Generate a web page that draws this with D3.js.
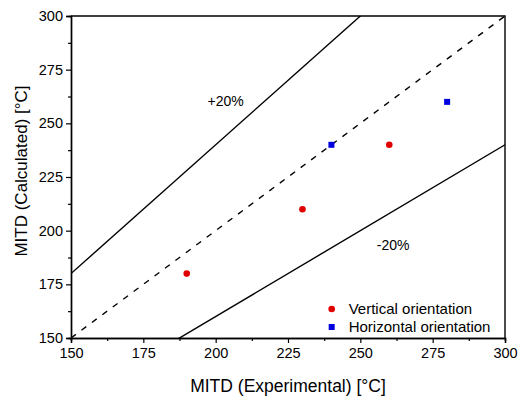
<!DOCTYPE html>
<html>
<head>
<meta charset="utf-8">
<script src="https://cdn.jsdelivr.net/npm/d3@7"></script>
<style>
  body { margin: 0; background: #fff; }
  text { font-family: "Liberation Sans", Arial, sans-serif; fill: #000; }
</style>
</head>
<body>
<div id="viz"></div>
<script>
// data
const verticalExp = [190, 230, 260];
const verticalCalc = [180, 210, 240];
const horizontalExp = [240, 280];
const horizontalCalc = [240, 260];
const majorTicks = [150, 175, 200, 225, 250, 275, 300];
const minorTicks = [162.5, 187.5, 212.5, 237.5, 262.5, 287.5];
const bandFactors = [1.2, 1.0, 0.8];
const bandLabels = ['+20%', '', '-20%'];
const legendLabels = ['Vertical orientation', 'Horizontal orientation'];

const W = 518, H = 398;
const margin = { top: 16, right: 13, bottom: 60, left: 71 };
const width = W - margin.left - margin.right;
const height = H - margin.top - margin.bottom;

const svg = d3.select('#viz').append('svg')
  .attr('width', W)
  .attr('height', H);

const g = svg.append('g')
  .attr('transform', `translate(${margin.left},${margin.top})`);

const x = d3.scaleLinear().domain([150, 300]).range([0, width]);
const y = d3.scaleLinear().domain([150, 300]).range([height, 0]);

g.append('defs').append('clipPath').attr('id', 'clip')
  .append('rect').attr('width', width).attr('height', height);

// reference lines y = k * x
const lineGen = d3.line().x(d => x(d[0])).y(d => y(d[1]));
const plot = g.append('g').attr('clip-path', 'url(#clip)');
bandFactors.forEach(k => {
  plot.append('path')
    .datum([[150, 150 * k], [300, 300 * k]])
    .attr('fill', 'none')
    .attr('stroke', '#000')
    .attr('stroke-width', 1.4)
    .attr('stroke-dasharray', k === 1 ? '6,7' : null)
    .attr('d', lineGen);
});

// band labels
g.append('text').attr('x', x(197.2)).attr('y', y(258.2)).attr('font-size', 14)
  .text(bandLabels[0]);
g.append('text').attr('x', x(255.7)).attr('y', y(191.1)).attr('font-size', 14)
  .text(bandLabels[2]);

// points
g.selectAll('.vert').data(verticalExp).join('circle')
  .attr('cx', d => x(d))
  .attr('cy', (d, i) => y(verticalCalc[i]))
  .attr('r', 3.3)
  .attr('fill', '#e00000');

g.selectAll('.horiz').data(horizontalExp).join('rect')
  .attr('x', d => x(d) - 3)
  .attr('y', (d, i) => y(horizontalCalc[i]) - 3)
  .attr('width', 6)
  .attr('height', 6)
  .attr('fill', '#0000e0');

// axes
g.append('g').attr('transform', `translate(0,${height})`)
  .call(d3.axisBottom(x).tickValues(majorTicks).tickSize(5).tickPadding(5));
g.append('g').attr('transform', `translate(0,${height})`)
  .call(d3.axisBottom(x).tickValues(minorTicks).tickSize(3).tickFormat(''));
g.append('g')
  .call(d3.axisLeft(y).tickValues(majorTicks).tickSize(5).tickPadding(3));
g.append('g')
  .call(d3.axisLeft(y).tickValues(minorTicks).tickSize(3).tickFormat(''));

g.selectAll('.domain').attr('stroke', '#000').attr('stroke-width', 1.4);
g.selectAll('.tick line').attr('stroke', '#000').attr('stroke-width', 1.2);
g.selectAll('.tick text')
  .attr('font-size', 14.5)
  .attr('font-family', '"Liberation Sans", Arial, sans-serif')
  .attr('fill', '#000');

// top and right frame
g.append('path')
  .attr('d', `M0,0H${width}V${height}`)
  .attr('fill', 'none')
  .attr('stroke', '#000')
  .attr('stroke-width', 1.4);

// axis titles
svg.append('text')
  .attr('x', 288)
  .attr('y', 392)
  .attr('text-anchor', 'middle')
  .attr('font-size', 17.5)
  .text('MITD (Experimental) [°C]');

svg.append('text')
  .attr('transform', 'translate(27,171) rotate(-90)')
  .attr('text-anchor', 'middle')
  .attr('font-size', 17)
  .text('MITD (Calculated) [°C]');

// legend
const legend = g.append('g').attr('transform', `translate(${x(240.1)},${y(163.5)})`);
legend.append('circle').attr('cx', 0).attr('cy', 0).attr('r', 3.3).attr('fill', '#e00000');
legend.append('rect').attr('x', -3).attr('y', 15).attr('width', 6).attr('height', 6).attr('fill', '#0000e0');
legendLabels.forEach((t, i) => {
  legend.append('text')
    .attr('x', 17)
    .attr('y', i * 18 + 4.5)
    .attr('font-size', 15)
    .text(t);
});
</script>
</body>
</html>
